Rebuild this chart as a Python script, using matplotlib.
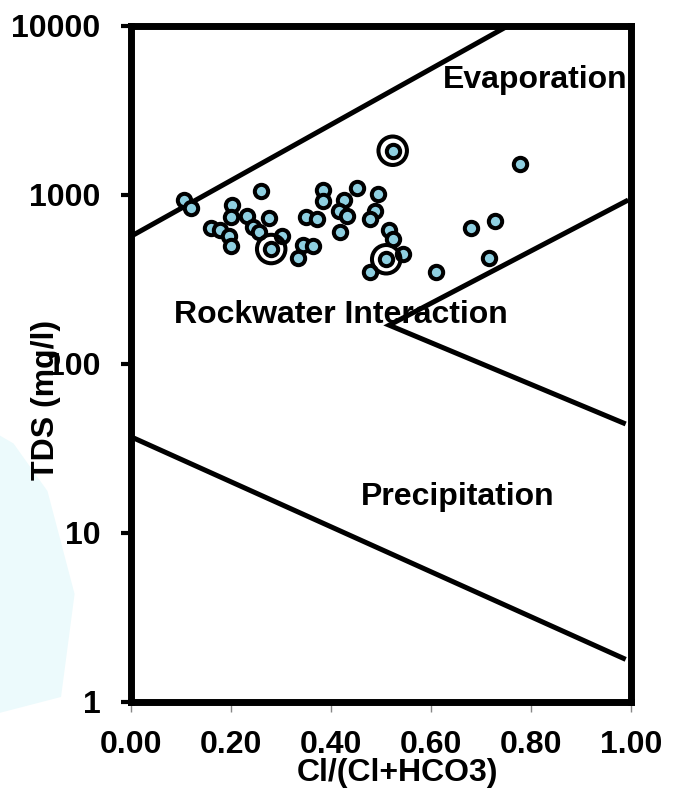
import numpy as np
import matplotlib
matplotlib.use("Agg")
import matplotlib.pyplot as plt
from matplotlib.ticker import FixedLocator, FixedFormatter, StrMethodFormatter, NullLocator
from matplotlib.patches import Polygon

# ---- data ----
ratio = [0.107, 0.121, 0.260, 0.203, 0.201, 0.232, 0.277, 0.161, 0.179, 0.197,
         0.201, 0.245, 0.257, 0.281, 0.302, 0.350, 0.372, 0.334, 0.345, 0.365,
         0.385, 0.385, 0.427, 0.417, 0.432, 0.418, 0.452, 0.494, 0.489, 0.479,
         0.524, 0.516, 0.525, 0.544, 0.511, 0.479, 0.611, 0.779, 0.680, 0.728,
         0.717]
tds = [930, 838, 1056, 869, 741, 748, 725, 633, 618, 572,
       497, 647, 604, 477, 572, 735, 718, 421, 501, 494,
       1062, 924, 930, 806, 745, 601, 1091, 1014, 804, 721,
       1820, 618, 549, 448, 415, 350, 351, 1513, 638, 701,
       421]
# highlighted samples (ringed)
ring_ratio = [0.281, 0.524, 0.511]
ring_tds = [477, 1820, 415]

# Gibbs boundary lines
evap_x = [0.0, 0.755]
evap_y = [566, 10000]
rock_x = [0.995, 0.517, 0.990]
rock_y = [930, 169, 44]
prec_x = [0.0, 0.990]
prec_y = [37, 1.78]

yticks = [1, 10, 100, 1000, 10000]
ytick_labels = ["1", "10", "100", "1000", "10000"]
xticks = [0.0, 0.2, 0.4, 0.6, 0.8, 1.0]

zone_labels = ["Evaporation", "Rockwater Interaction", "Precipitation"]
zone_x = [0.809, 0.420, 0.653]
zone_y = [4276, 175, 14.6]

# ---- figure ----
plt.rcParams['font.family'] = ['Liberation Sans', 'DejaVu Sans']
W, H = 678, 792
fig = plt.figure(figsize=(W / 100, H / 100), dpi=100)

# faint watermark on the left
wm = Polygon([[0, 0.10], [0.09, 0.12], [0.11, 0.25], [0.07, 0.38], [0.02, 0.44], [0, 0.45]],
             closed=True, transform=fig.transFigure, facecolor='#ecfafc',
             edgecolor='none', zorder=-5)
fig.patches.append(wm)

L, R, T, B = 130.7, 630.7, 25.7, 701.7
ax = fig.add_axes([L / W, 1 - B / H, (R - L) / W, (B - T) / H])
ax.set_facecolor('none')
ax.set_xlim(0, 1)
ax.set_yscale('log')
ax.set_ylim(1, 10000)

lw = 3.6
ax.plot(evap_x, evap_y, color='black', lw=lw, solid_capstyle='butt')
ax.plot(rock_x, rock_y, color='black', lw=lw, solid_capstyle='butt', solid_joinstyle='miter')
ax.plot(prec_x, prec_y, color='black', lw=lw, solid_capstyle='butt')

ax.scatter(ratio, tds, s=9.6 ** 2, facecolor='#8ecfe0', edgecolor='black',
           linewidths=2.9, zorder=3)
ax.scatter(ring_ratio, ring_tds, s=20.5 ** 2, facecolor='none', edgecolor='black',
           linewidths=2.9, zorder=4)

fs = 23
for lab, zx, zy in zip(zone_labels, zone_x, zone_y):
    ax.text(zx, zy, lab, ha='center', va='baseline', fontsize=fs,
            fontweight='bold', zorder=5)

for sp in ax.spines.values():
    sp.set_linewidth(5)
    sp.set_color('black')

ax.yaxis.set_major_locator(FixedLocator(yticks))
ax.yaxis.set_major_formatter(FixedFormatter(ytick_labels))
ax.yaxis.set_minor_locator(NullLocator())
ax.set_xticks(xticks)
ax.xaxis.set_major_formatter(StrMethodFormatter('{x:.2f}'))

ax.tick_params(axis='y', direction='out', length=7.2, width=3, color='black',
               pad=14.5, labelsize=fs)
ax.tick_params(axis='x', direction='out', length=7.2, width=1, color='#888888',
               pad=13, labelsize=fs)
for t in ax.get_xticklabels() + ax.get_yticklabels():
    t.set_fontweight('bold')

fig.text(397 / W, 1 - 773 / H, "Cl/(Cl+HCO3)", ha='center', va='center',
         fontsize=fs, fontweight='bold')
fig.text(46 / W, 1 - 400 / H, "TDS (mg/l)", ha='center', va='center',
         rotation=90, fontsize=fs, fontweight='bold')

fig.savefig('out.png', dpi=100)
